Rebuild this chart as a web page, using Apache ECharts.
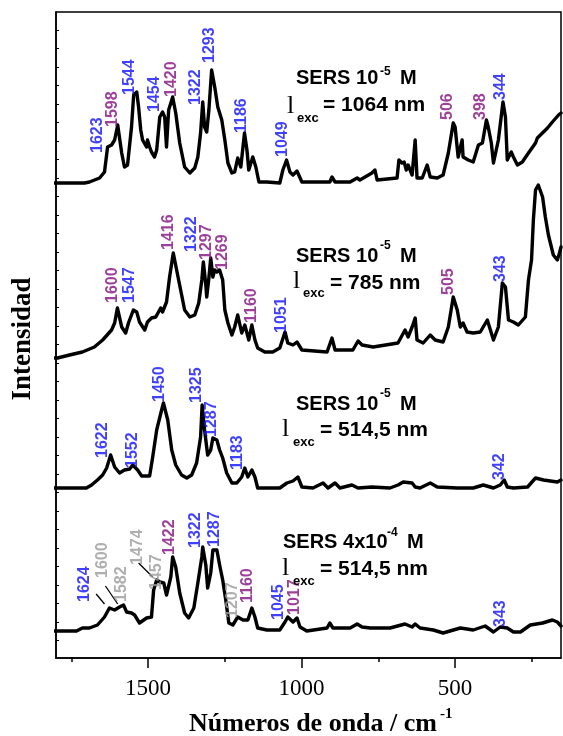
<!DOCTYPE html>
<html>
<head>
<meta charset="UTF-8">
<title>SERS</title>
<script src="https://cdn.jsdelivr.net/npm/echarts@6/dist/echarts.min.js"></script>
<style>
  html, body { margin: 0; padding: 0; background: #fff; }
  #main { width: 563px; height: 736px; }
</style>
</head>
<body>
<div id="main"></div>
<script type="text/javascript">
// espectros: [numero de onda, intensidad relativa a su linea base]
var sers1064 = [[1808,0],[1707,0],[1691,1],[1658,5],[1642,11],[1632,36],[1619,38],[1609,43],[1599,58],[1586,30],[1577,16],[1567,18],[1554,56],[1547,88],[1537,91],[1531,76],[1524,53],[1518,43],[1505,36],[1502,43],[1495,36],[1489,31],[1479,26],[1472,33],[1462,66],[1453,71],[1446,66],[1440,36],[1433,73],[1420,86],[1410,70],[1397,40],[1381,16],[1364,10],[1348,15],[1338,26],[1329,50],[1322,81],[1316,56],[1309,51],[1302,73],[1293,113],[1283,96],[1273,76],[1260,63],[1250,43],[1240,20],[1227,10],[1218,11],[1208,25],[1198,16],[1186,50],[1178,33],[1172,13],[1159,26],[1149,16],[1139,1],[1113,1],[1071,0],[1061,13],[1049,23],[1038,11],[1028,8],[1015,12],[999,1],[908,1],[901,6],[891,1],[842,1],[819,5],[810,3],[771,10],[761,13],[754,3],[689,5],[683,23],[673,20],[666,21],[659,13],[653,18],[640,8],[630,43],[624,5],[607,5],[591,18],[581,6],[558,5],[539,8],[522,30],[506,60],[500,56],[490,26],[477,43],[474,26],[457,23],[441,21],[424,38],[411,40],[398,63],[392,56],[382,40],[375,20],[359,43],[344,81],[336,66],[330,23],[317,31],[310,26],[297,18],[281,21],[261,30],[238,40],[232,45],[199,55],[183,61],[163,68],[155,70]];
var sers785 = [[1808,-6],[1795,-6],[1756,-3],[1714,0],[1675,5],[1648,12],[1619,22],[1609,29],[1600,44],[1586,25],[1573,19],[1564,29],[1548,42],[1537,40],[1528,30],[1511,22],[1502,30],[1489,34],[1475,35],[1459,44],[1453,40],[1440,50],[1430,75],[1418,99],[1407,82],[1394,62],[1381,42],[1364,35],[1348,37],[1335,49],[1325,72],[1320,90],[1312,67],[1309,55],[1302,74],[1296,94],[1289,75],[1283,82],[1276,80],[1267,82],[1257,72],[1250,42],[1240,29],[1227,17],[1218,25],[1208,37],[1195,19],[1185,27],[1172,12],[1162,27],[1152,12],[1143,4],[1120,0],[1094,0],[1071,4],[1054,20],[1045,9],[1028,7],[1015,10],[999,2],[917,0],[901,14],[891,2],[833,2],[816,11],[803,7],[767,5],[686,9],[663,22],[653,15],[640,25],[630,34],[624,12],[604,9],[581,17],[565,12],[539,10],[522,25],[506,55],[493,42],[483,25],[474,29],[461,20],[441,19],[418,20],[395,32],[385,22],[375,12],[359,25],[346,69],[336,65],[326,32],[310,30],[294,27],[271,35],[261,72],[251,92],[245,132],[238,162],[229,167],[215,155],[206,135],[196,117],[180,97],[167,92],[160,99],[155,105]];
var sers514 = [[1808,0],[1701,0],[1684,3],[1665,8],[1648,13],[1635,20],[1622,33],[1609,21],[1593,15],[1577,18],[1560,19],[1550,23],[1534,18],[1521,12],[1495,12],[1485,31],[1472,58],[1456,78],[1450,85],[1436,68],[1423,38],[1410,23],[1391,13],[1374,10],[1358,13],[1342,25],[1329,51],[1324,83],[1316,58],[1306,33],[1296,38],[1289,50],[1276,48],[1267,38],[1257,30],[1244,15],[1227,5],[1211,5],[1195,11],[1185,20],[1175,11],[1162,18],[1152,11],[1143,0],[1103,0],[1071,0],[1048,5],[1028,7],[1012,11],[999,1],[963,0],[930,5],[914,0],[891,5],[875,0],[836,3],[816,0],[771,1],[712,0],[686,3],[669,6],[640,5],[630,1],[614,0],[581,5],[558,1],[493,0],[441,0],[408,3],[375,0],[353,3],[340,8],[330,1],[310,0],[264,1],[238,10],[212,8],[167,6],[155,8]];
var sers514b = [[1808,-1],[1733,-1],[1714,2],[1691,2],[1665,5],[1642,13],[1626,22],[1609,20],[1593,23],[1580,25],[1570,18],[1554,17],[1544,15],[1528,7],[1505,12],[1489,13],[1482,40],[1472,50],[1462,48],[1449,47],[1440,35],[1426,53],[1420,73],[1410,63],[1397,37],[1381,17],[1368,12],[1351,22],[1338,47],[1325,73],[1322,83],[1312,65],[1306,42],[1296,57],[1289,80],[1276,80],[1267,65],[1257,50],[1247,30],[1237,7],[1224,5],[1208,13],[1191,10],[1175,10],[1162,22],[1152,13],[1143,2],[1113,0],[1071,0],[1054,8],[1045,13],[1028,8],[1015,12],[1005,3],[983,-1],[917,2],[908,7],[898,2],[842,2],[819,6],[803,3],[777,2],[712,2],[663,6],[640,3],[630,6],[614,2],[571,0],[539,-3],[483,2],[441,0],[402,4],[375,-2],[353,3],[330,2],[310,-2],[287,-2],[255,5],[215,7],[183,10],[167,8],[155,4]];

var spectra = [sers1064, sers785, sers514, sers514b];
var offsets = [474, 305, 169, 27];   // desplazamiento vertical de cada espectro

// etiquetas de picos: [texto, color, numero de onda, altura]
var labels1064 = [['1623','b',1665,504],['1598','p',1616,530],['1544','b',1560,562],['1454','b',1479,545],['1420','p',1423,560],['1322','b',1345,552],['1293','b',1299,594],['1186','b',1195,524],['1049','b',1061,500],['506','p',526,537],['398','p',418,537],['344','b',353,557]];
var labels785 = [['1600','p',1616,354],['1547','b',1560,354],['1416','p',1433,407],['1322','b',1358,405],['1297','p',1309,397],['1269','p',1257,387],['1160','p',1162,334],['1051','b',1064,324],['505','p',522,362],['343','b',353,375]];
var labels514 = [['1622','b',1648,199],['1552','b',1551,189],['1450','b',1462,255],['1325','b',1342,254],['1287','b',1293,220],['1183','b',1208,187],['342','b',356,177]];
var labels514b = [['1624','b',1707,55],['1600','g',1648,79],['1582','g',1586,55],['1474','g',1534,92],['1457','g',1472,67],['1422','p',1430,102],['1322','b',1345,109],['1287','b',1283,110],['1207','g',1224,39],['1160','p',1175,54],['1045','b',1074,37],['1017','p',1022,42],['343','b',353,30]];
var leaders = [[[1669,63],[1642,53]], [[1639,71],[1599,53]], [[1531,94],[1485,80]]];

var xMajor = [1500, 1000, 500];
var xMinor = [1750, 1250, 750, 250];

var colores = { b: '#1010ff', p: '#85107f', g: '#9a9a9a' };
var sans = '"Liberation Sans", Arial, sans-serif';
var serif = '"Liberation Serif", "Times New Roman", serif';

(function () {
  var myChart = echarts.init(document.getElementById('main'));

  var yTicks = [];
  for (var t = 627; t > 0; t -= 18.5) yTicks.push(t);

  var series = [];
  for (var i = 0; i < spectra.length; i++) {
    var off = offsets[i];
    series.push({
      type: 'line',
      data: spectra[i].map(function (p) { return [p[0], p[1] + off]; }),
      symbol: 'none',
      clip: false,
      lineStyle: { color: '#000', width: 3.4, join: 'round', cap: 'round' },
      z: 3
    });
  }

  var allLabels = labels1064.concat(labels785, labels514, labels514b);
  series.push({
    type: 'scatter',
    symbolSize: 0,
    z: 5,
    data: allLabels.map(function (l) {
      return {
        value: [l[2], l[3]],
        label: { formatter: l[0], color: colores[l[1]] }
      };
    }),
    label: {
      show: true,
      position: [0, 0],
      rotate: 90,
      align: 'left',
      verticalAlign: 'middle',
      fontSize: 16,
      fontWeight: 'bold',
      fontFamily: sans
    }
  });

  series.push({
    type: 'lines',
    coordinateSystem: 'cartesian2d',
    data: leaders.map(function (c) { return { coords: c }; }),
    lineStyle: { color: '#000', width: 1.3, opacity: 1 },
    z: 4
  });

  function txt(s, x, y, font, extra) {
    var o = { type: 'text', x: x, y: y, z: 10,
      style: { text: s, font: font, fill: '#000', align: 'left', verticalAlign: 'middle' } };
    if (extra) for (var k in extra) o[k] = extra[k];
    return o;
  }

  var big = 'bold 20px ' + sans, sup = 'bold 12px ' + sans, sub = 'bold 13px ' + sans,
      mid = 'bold 21px ' + sans, lam = '26px ' + serif;
  var graphic = [
    txt('SERS 10', 296, 78.1, big), txt('-5', 380, 71.8, sup), txt('M', 400, 78.1, big),
    txt('l', 287, 106.2, lam), txt('exc', 297, 118.5, sub), txt('= 1064 nm', 323, 105.7, mid),

    txt('SERS 10', 296, 256.1, big), txt('-5', 380, 245.8, sup), txt('M', 400, 256.1, big),
    txt('l', 293, 281.2, lam), txt('exc', 303, 293.5, sub), txt('= 785 nm', 330, 283.7, mid),

    txt('SERS 10', 296, 404.1, big), txt('-5', 380, 393.8, sup), txt('M', 400, 404.1, big),
    txt('l', 282, 429.2, lam), txt('exc', 293, 442.5, sub), txt('= 514,5 nm', 320, 430.7, mid),

    txt('SERS 4x10', 283, 542.1, big), txt('-4', 387, 532.8, sup), txt('M', 407, 542.1, big),
    txt('l', 282, 568.2, lam), txt('exc', 293, 581.5, sub), txt('= 514,5 nm', 320, 569.7, mid),

    {
      type: 'text', x: 313, y: 724.5, z: 10,
      style: { text: 'Números de onda / cm', font: 'bold 26px ' + serif, fill: '#000', align: 'center', verticalAlign: 'middle' }
    },
    txt('-1', 440, 714.5, 'bold 15px ' + serif),
    {
      type: 'text', x: 22.6, y: 339, z: 10, rotation: Math.PI / 2,
      style: { text: 'Intensidad', font: 'bold 27px ' + serif, fill: '#000', align: 'center', verticalAlign: 'middle' }
    }
  ];

  var option = {
    animation: false,
    backgroundColor: '#fff',
    grid: { left: 56, right: 2, top: 12, bottom: 78, show: true, borderColor: '#000', borderWidth: 1.5 },
    xAxis: [
      {
        type: 'value', min: 155, max: 1800, inverse: true,
        splitLine: { show: false },
        axisLine: { show: true, onZero: false, lineStyle: { color: '#000', width: 1.5 } },
        axisTick: { show: true, customValues: xMajor, length: 10, lineStyle: { color: '#000', width: 1.5 } },
        axisLabel: {
          show: true, customValues: xMajor, margin: 19, color: '#000', fontSize: 23, fontFamily: serif,
          formatter: function (v) { return String(v); }
        }
      },
      {
        type: 'value', min: 155, max: 1800, inverse: true, position: 'bottom',
        splitLine: { show: false },
        axisLine: { show: false },
        axisTick: { show: true, customValues: xMinor, length: 5, lineStyle: { color: '#000', width: 1.5 } },
        axisLabel: { show: false }
      }
    ],
    yAxis: {
      type: 'value', min: -1, max: 645,
      splitLine: { show: false },
      axisLine: { show: true, onZero: false, lineStyle: { color: '#000', width: 1.5 } },
      axisTick: { show: true, inside: true, customValues: yTicks, length: 3, lineStyle: { color: '#000', width: 1 } },
      axisLabel: { show: false }
    },
    graphic: graphic,
    series: series
  };

  myChart.setOption(option);
})();
</script>
</body>
</html>
